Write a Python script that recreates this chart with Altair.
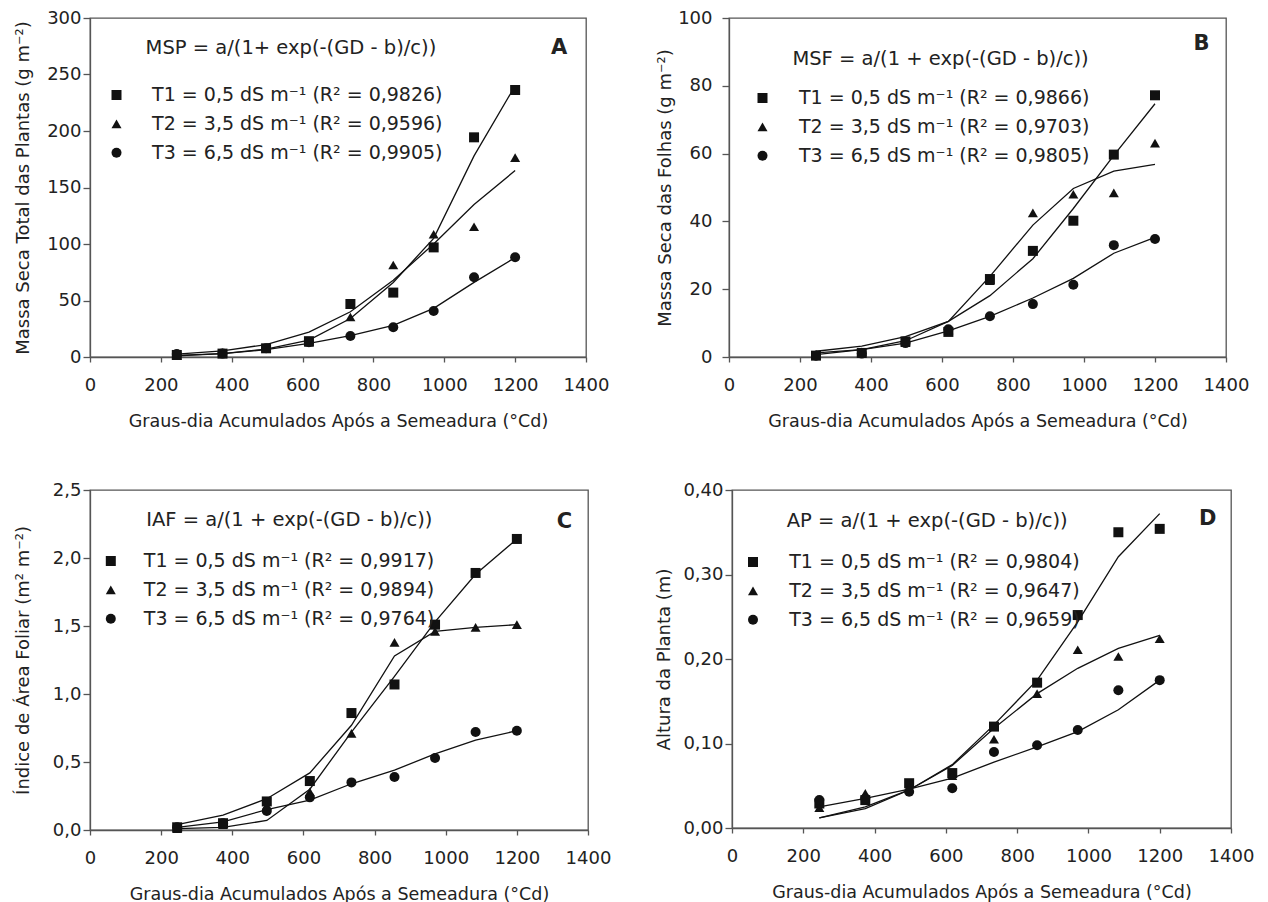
import altair as alt
import pandas as pd

FONT = "DejaVu Sans"
INK = "#111111"
TXT = "#222222"
AXC = "#555555"

GD = [245, 374, 497, 618, 735, 856, 970, 1084, 1200]
X_TICKS = [0, 200, 400, 600, 800, 1000, 1200, 1400]
X_TITLE = "Graus-dia Acumulados Após a Semeadura (°Cd)"
SHAPES = ["square", "triangle-up", "circle"]

# ---------- Panel A : MSP ----------
A_LABELS = ["T1 = 0,5 dS m⁻¹ (R² = 0,9826)",
            "T2 = 3,5 dS m⁻¹ (R² = 0,9596)",
            "T3 = 6,5 dS m⁻¹ (R² = 0,9905)"]
A_T1_OBS = [1.8, 3.0, 7.7, 14.0, 46.9, 57.0, 97.0, 194.4, 236.3]
A_T2_OBS = [1.5, 4.0, 8.0, 13.0, 35.4, 81.4, 108.6, 115.3, 176.4]
A_T3_OBS = [2.6, 3.0, 7.7, 13.0, 18.6, 26.3, 40.7, 70.5, 88.2]
A_T1_FIT = [1.0, 3.0, 7.0, 15.0, 34.0, 66.0, 105.0, 178.0, 240.0]
A_T2_FIT = [2.5, 5.5, 11.0, 22.0, 40.0, 68.0, 100.0, 135.0, 165.0]
A_T3_FIT = [1.5, 3.0, 6.5, 12.0, 19.0, 28.0, 43.0, 66.0, 88.0]
A_EQ = "MSP = a/(1+ exp(-(GD - b)/c))"
A_YTITLE = "Massa Seca Total das Plantas (g m⁻²)"
A_YTICKS = [0, 50, 100, 150, 200, 250, 300]

# ---------- Panel B : MSF ----------
B_LABELS = ["T1 = 0,5 dS m⁻¹ (R² = 0,9866)",
            "T2 = 3,5 dS m⁻¹ (R² = 0,9703)",
            "T3 = 6,5 dS m⁻¹ (R² = 0,9805)"]
B_T1_OBS = [0.4, 1.2, 4.6, 7.4, 23.0, 31.3, 40.2, 59.7, 77.2]
B_T2_OBS = [0.8, 1.5, 4.2, 8.0, 22.5, 42.5, 48.0, 48.4, 63.1]
B_T3_OBS = [0.4, 1.0, 4.1, 8.2, 12.0, 15.6, 21.3, 33.0, 34.8]
B_T1_FIT = [0.7, 2.2, 4.8, 10.5, 18.1, 29.0, 43.8, 59.5, 74.7]
B_T2_FIT = [1.7, 3.2, 6.0, 10.5, 23.8, 38.9, 49.7, 54.8, 56.8]
B_T3_FIT = [1.2, 2.2, 4.1, 7.7, 12.0, 17.4, 23.2, 30.6, 35.3]
B_EQ = "MSF = a/(1 + exp(-(GD - b)/c))"
B_YTITLE = "Massa Seca das Folhas (g m⁻²)"
B_YTICKS = [0, 20, 40, 60, 80, 100]

# ---------- Panel C : IAF ----------
C_LABELS = ["T1 = 0,5 dS m⁻¹ (R² = 0,9917)",
            "T2 = 3,5 dS m⁻¹ (R² = 0,9894)",
            "T3 = 6,5 dS m⁻¹ (R² = 0,9764)"]
C_T1_OBS = [0.02, 0.05, 0.21, 0.36, 0.86, 1.07, 1.51, 1.89, 2.14]
C_T2_OBS = [0.01, 0.04, 0.18, 0.28, 0.71, 1.38, 1.46, 1.49, 1.51]
C_T3_OBS = [0.02, 0.05, 0.14, 0.24, 0.35, 0.39, 0.53, 0.72, 0.73]
C_T1_FIT = [0.01, 0.02, 0.07, 0.30, 0.72, 1.13, 1.53, 1.88, 2.14]
C_T2_FIT = [0.04, 0.11, 0.23, 0.42, 0.77, 1.28, 1.46, 1.49, 1.51]
C_T3_FIT = [0.02, 0.06, 0.15, 0.22, 0.34, 0.44, 0.56, 0.66, 0.73]
C_EQ = "IAF = a/(1 + exp(-(GD - b)/c))"
C_YTITLE = "Índice de Área Foliar (m² m⁻²)"
C_YTICKS = [0, 0.5, 1.0, 1.5, 2.0, 2.5]

# ---------- Panel D : AP ----------
D_LABELS = ["T1 = 0,5 dS m⁻¹ (R² = 0,9804)",
            "T2 = 3,5 dS m⁻¹ (R² = 0,9647)",
            "T3 = 6,5 dS m⁻¹ (R² = 0,9659)"]
D_T1_OBS = [0.029, 0.033, 0.053, 0.065, 0.120, 0.172, 0.252, 0.350, 0.354]
D_T2_OBS = [0.024, 0.041, 0.048, 0.062, 0.105, 0.159, 0.211, 0.203, 0.224]
D_T3_OBS = [0.033, 0.035, 0.043, 0.047, 0.090, 0.098, 0.116, 0.163, 0.175]
D_T1_FIT = [0.012, 0.025, 0.045, 0.075, 0.122, 0.175, 0.244, 0.321, 0.372]
D_T2_FIT = [0.012, 0.023, 0.045, 0.074, 0.118, 0.159, 0.189, 0.2125, 0.228]
D_T3_FIT = [0.025, 0.035, 0.046, 0.059, 0.078, 0.096, 0.114, 0.140, 0.175]
D_EQ = "AP = a/(1 + exp(-(GD - b)/c))"
D_YTITLE = "Altura da Planta (m)"
D_YTICKS = [0, 0.1, 0.2, 0.3, 0.4]


def panel(labels, obs, fits, eq, letter, ytitle, yticks, ylabelexpr,
          w, h, leg, label_offset, eq_xy, letter_xy, lab_pad, title_pad):
    rows = []
    for lab, o, f in zip(labels, obs, fits):
        for g, ov, fv in zip(GD, o, f):
            rows.append({"GD": g, "obs": ov, "fit": fv, "serie": lab})
    df = pd.DataFrame(rows)

    xenc = alt.X("GD:Q",
                 scale=alt.Scale(domain=[0, 1400], nice=False, zero=True),
                 axis=alt.Axis(values=X_TICKS, title=X_TITLE, format="d"))
    yscale = alt.Scale(domain=[yticks[0], yticks[-1]], nice=False, zero=True)
    yaxis = alt.Axis(values=yticks, title=ytitle, labelExpr=ylabelexpr,
                     labelPadding=lab_pad, titlePadding=title_pad)

    base = alt.Chart(df)
    lines = base.mark_line(color=INK, strokeWidth=1.3).encode(
        x=xenc,
        y=alt.Y("fit:Q", scale=yscale, axis=yaxis),
        detail="serie:N",
    )
    pts = base.mark_point(filled=True, size=100, opacity=1, color=INK).encode(
        x=xenc,
        y=alt.Y("obs:Q", scale=yscale, axis=yaxis),
        shape=alt.Shape(
            "serie:N",
            scale=alt.Scale(domain=labels, range=SHAPES),
            legend=alt.Legend(
                orient="none", legendX=leg[0], legendY=leg[1], title=None,
                labelFont=FONT, labelFontSize=19, labelColor=TXT,
                symbolSize=100, symbolFillColor=INK, symbolStrokeColor=INK,
                symbolStrokeWidth=0, rowPadding=8.9, labelOffset=label_offset,
                padding=0, labelLimit=0,
            ),
        ),
    )
    eq_t = alt.Chart(pd.DataFrame({"t": [eq]})).mark_text(
        align="left", baseline="middle", font=FONT, fontSize=19.5, color=TXT
    ).encode(x=alt.value(eq_xy[0]), y=alt.value(eq_xy[1]), text="t:N")
    let_t = alt.Chart(pd.DataFrame({"t": [letter]})).mark_text(
        align="center", baseline="middle", font=FONT, fontSize=21,
        fontWeight="bold", color=TXT
    ).encode(x=alt.value(letter_xy[0]), y=alt.value(letter_xy[1]), text="t:N")

    return alt.layer(lines, pts, eq_t, let_t).properties(width=w, height=h)


INT_EXPR = "format(datum.value, 'd')"
C_EXPR = "replace(format(datum.value, '.1f'), '.', ',')"
D_EXPR = "replace(format(datum.value, '.2f'), '.', ',')"

pA = panel(A_LABELS, [A_T1_OBS, A_T2_OBS, A_T3_OBS], [A_T1_FIT, A_T2_FIT, A_T3_FIT],
           A_EQ, "A", A_YTITLE, A_YTICKS, INT_EXPR, 496, 339,
           (17, 67.5), 26.1, (55.6, 30.3), (469, 30.3), 2, 14)
pB = panel(B_LABELS, [B_T1_OBS, B_T2_OBS, B_T3_OBS], [B_T1_FIT, B_T2_FIT, B_T3_FIT],
           B_EQ, "B", B_YTITLE, B_YTICKS, INT_EXPR, 497, 339,
           (24, 70.5), 27, (63.4, 41.3), (472.6, 26.4), 10, 3)
pC = panel(C_LABELS, [C_T1_OBS, C_T2_OBS, C_T3_OBS], [C_T1_FIT, C_T2_FIT, C_T3_FIT],
           C_EQ, "C", C_YTITLE, C_YTICKS, C_EXPR, 498, 340,
           (11.3, 61.5), 23.5, (56.2, 30.3), (474.5, 32), 2, 19.5)
pD = panel(D_LABELS, [D_T1_OBS, D_T2_OBS, D_T3_OBS], [D_T1_FIT, D_T2_FIT, D_T3_FIT],
           D_EQ, "D", D_YTITLE, D_YTICKS, D_EXPR, 499, 338,
           (11.5, 62.5), 26.7, (54.7, 30.5), (475.8, 28.6), 2, 9)

row1 = alt.hconcat(pA, pB, spacing=45).resolve_scale(shape="independent").resolve_legend(shape="independent")
row2 = alt.hconcat(pC, pD, spacing=43).resolve_scale(shape="independent").resolve_legend(shape="independent")

chart = (
    alt.vconcat(row1, row2, spacing=49)
    .resolve_scale(shape="independent")
    .resolve_legend(shape="independent")
    .properties(padding={"left": 5, "top": 0, "right": 0, "bottom": 0})
    .configure(font=FONT)
    .configure_view(stroke=AXC, strokeWidth=1.3)
    .configure_axis(
        grid=False, labelFont=FONT, titleFont=FONT, labelFontSize=18,
        titleFontSize=18, titleFontWeight="normal", labelColor=TXT,
        titleColor=TXT, domainColor=AXC, tickColor=AXC, domainWidth=1.3,
        tickWidth=1.3, labelFlush=False,
    )
    .configure_axisX(tickSize=5, labelPadding=14, titlePadding=18, titleFontSize=17.5)
    .configure_axisY(tickSize=7)
)

chart.save("out.html", embed_options={"renderer": "svg", "actions": False})
